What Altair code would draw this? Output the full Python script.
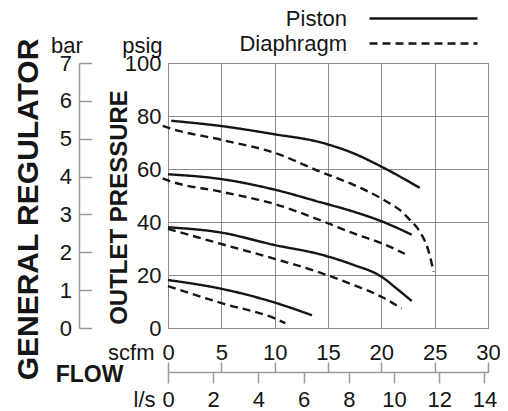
import altair as alt
import pandas as pd

# ---------------- data ----------------
piston_80_scfm = [0.3, 5, 10, 14.25, 17.4, 20, 23.6]
piston_80_psig = [78.2, 76.2, 73.1, 70.1, 65.9, 60.9, 52.9]
diaph_80_scfm = [-0.5, 0, 5, 10, 14.25, 17.4, 20, 20.8, 21.75, 22.7, 23.6, 24.4, 24.9]
diaph_80_psig = [76.3, 75.6, 71.0, 66.1, 59.0, 54.0, 48.9, 47.0, 44.5, 40.7, 36.4, 29.4, 21.2]

piston_60_scfm = [0, 5, 10, 14.25, 17.4, 20, 22.85]
piston_60_psig = [58.0, 56.2, 52.2, 47.5, 43.9, 40.3, 35.2]
diaph_60_scfm = [-0.5, 0, 5, 10, 14.5, 17.4, 20, 22.2]
diaph_60_psig = [56.5, 55.7, 51.4, 46.8, 40.3, 35.7, 32.0, 28.0]

piston_40_scfm = [0, 5, 10, 14.25, 17.4, 20, 21.4, 22.85]
piston_40_psig = [38.0, 36.0, 31.3, 27.8, 23.8, 19.4, 15.0, 10.2]
diaph_40_scfm = [0, 5, 10, 14.25, 17.4, 20, 21.9]
diaph_40_psig = [37.4, 31.7, 26.1, 20.9, 16.2, 11.8, 7.4]

piston_20_scfm = [0, 5, 10, 13.5]
piston_20_psig = [18.1, 14.8, 9.6, 4.8]
diaph_20_scfm = [0, 5, 10, 11]
diaph_20_psig = [15.8, 9.4, 3.6, 1.8]

types = ["Piston", "Diaphragm"]
scfm_ticks = [0, 5, 10, 15, 20, 25, 30]
psig_ticks = [0, 20, 40, 60, 80, 100]
bar_ticks = [0, 1, 2, 3, 4, 5, 6, 7]
ls_ticks = [0, 2, 4, 6, 8, 10, 12, 14]
SCFM_MAX = 30
PSIG_MAX = 100
BAR_MAX = 7
LS_PER_SCFM = 0.471947

series = [
    ("Piston", "80", piston_80_scfm, piston_80_psig),
    ("Diaphragm", "80", diaph_80_scfm, diaph_80_psig),
    ("Piston", "60", piston_60_scfm, piston_60_psig),
    ("Diaphragm", "60", diaph_60_scfm, diaph_60_psig),
    ("Piston", "40", piston_40_scfm, piston_40_psig),
    ("Diaphragm", "40", diaph_40_scfm, diaph_40_psig),
    ("Piston", "20", piston_20_scfm, piston_20_psig),
    ("Diaphragm", "20", diaph_20_scfm, diaph_20_psig),
]
rows = []
for kind, setp, xs, ys in series:
    for i, (x, y) in enumerate(zip(xs, ys)):
        rows.append({"type": kind, "kind": kind, "curve": kind + " " + setp,
                     "scfm": x, "psig": y, "order": i})
df = pd.DataFrame(rows)
bar_df = pd.DataFrame({"bar": bar_ticks})
ls_df = pd.DataFrame({"ls": ls_ticks})

# ---------------- style ----------------
FONT = "Liberation Sans"
INK = "#151515"
GRID = "#8c8c8c"
AX = "#9a9a9a"
FS = 22

common = dict(labelFont=FONT, labelFontSize=FS, labelColor=INK, titleFont=FONT,
              titleColor=INK, labelFlush=False)

lines = alt.Chart(df).mark_line(strokeWidth=2.4, interpolate="monotone").encode(
    x=alt.X("scfm:Q", scale=alt.Scale(domain=[0, SCFM_MAX], nice=False, zero=False),
            axis=alt.Axis(orient="top", offset=-309, values=scfm_ticks, grid=True,
                          gridColor=GRID, gridWidth=1, gridOpacity=1, domain=False,
                          ticks=True, tickSize=10, tickColor=AX, tickWidth=1.5,
                          labelBaseline="alphabetic", labelPadding=3, labelAlign="center",
                          title="scfm", titleFontSize=FS, titleFontWeight="normal",
                          titleAngle=0, titleAlign="right", titleBaseline="alphabetic",
                          titleX=-14, titleY=-13, **common)),
    y=alt.Y("psig:Q", scale=alt.Scale(domain=[0, PSIG_MAX], nice=False),
            axis=alt.Axis(orient="left", values=psig_ticks, grid=True, gridColor=GRID,
                          gridWidth=1, gridOpacity=1, domain=False, ticks=False, tickSize=0,
                          labelPadding=7, labelBaseline="middle",
                          title="psig", titleFontSize=FS, titleFontWeight="normal",
                          titleAngle=0, titleAlign="right", titleBaseline="alphabetic",
                          titleX=-6, titleY=-11, **common)),
    # legend 1: the line samples only
    strokeDash=alt.StrokeDash("type:N",
                              scale=alt.Scale(domain=types, range=[[1, 0], [8, 5]]),
                              legend=alt.Legend(title=None, orient="none", legendX=200, legendY=-57,
                                                direction="vertical", symbolType="stroke",
                                                symbolSize=108 * 108, symbolStrokeWidth=2.4,
                                                symbolStrokeColor=INK,
                                                clipHeight=25, rowPadding=0,
                                                labelExpr="''", labelFontSize=FS,
                                                padding=0)),
    # legend 2: the names only, to the left of the samples
    color=alt.Color("kind:N",
                    scale=alt.Scale(domain=types[::-1], range=[INK, INK]),
                    legend=alt.Legend(title=None, orient="none", legendX=157, legendY=-57,
                                      values=types,
                                      direction="vertical", symbolType="stroke",
                                      symbolSize=1, symbolOpacity=0,
                                      clipHeight=25, rowPadding=0,
                                      labelAlign="right", labelOffset=0,
                                      labelBaseline="middle", labelFont=FONT,
                                      labelFontSize=FS, labelColor=INK, labelLimit=300,
                                      padding=0)),
    detail="curve:N",
    order="order:Q",
)

bar_layer = alt.Chart(bar_df).mark_point(opacity=0).encode(
    y=alt.Y("bar:Q", scale=alt.Scale(domain=[0, BAR_MAX], nice=False),
            axis=alt.Axis(orient="right", offset=-409, values=bar_ticks, grid=False,
                          domain=True, domainColor=AX, domainWidth=1.5,
                          ticks=True, tickSize=12.5, tickColor=AX, tickWidth=1.5,
                          labelAlign="right", labelPadding=-20, labelBaseline="middle",
                          title="bar", titleFontSize=FS, titleFontWeight="normal",
                          titleAngle=0, titleAlign="center", titleBaseline="alphabetic",
                          titleX=-12.5, titleY=-11, **common)),
)

ls_layer = alt.Chart(ls_df).mark_point(opacity=0).encode(
    x=alt.X("ls:Q", scale=alt.Scale(domain=[0, SCFM_MAX * LS_PER_SCFM], nice=False, zero=False),
            axis=alt.Axis(orient="bottom", offset=44, values=ls_ticks, grid=False,
                          domain=True, domainColor=AX, domainWidth=1.5,
                          ticks=True, tickSize=11, tickColor=AX, tickWidth=1.5,
                          labelBaseline="alphabetic", labelPadding=23, labelAlign="center",
                          title="l/s", titleFontSize=FS, titleFontWeight="normal",
                          titleAngle=0, titleAlign="right", titleBaseline="alphabetic",
                          titleX=-13, titleY=34, **common)),
    y=alt.Y("ls:Q", axis=alt.Axis(orient="left", labels=False, ticks=False, domain=False,
                                  grid=False, title="GENERAL REGULATOR", titleFont=FONT,
                                  titleFontSize=30, titleFontWeight="bold", titleColor=INK,
                                  titleAngle=-90, titleAlign="center", titleBaseline="middle",
                                  titleX=-140, titleY=146)),
)

label_layer = alt.Chart(df).mark_point(opacity=0).encode(
    x=alt.X("scfm:Q", axis=alt.Axis(orient="bottom", labels=False, ticks=False, domain=False,
                                    grid=False, title="FLOW", titleFont=FONT, titleFontSize=23,
                                    titleFontWeight="bold", titleColor=INK, titleAngle=0,
                                    titleAlign="center", titleBaseline="alphabetic",
                                    titleX=-79, titleY=53)),
    y=alt.Y("psig:Q", axis=alt.Axis(orient="left", labels=False, ticks=False, domain=False,
                                    grid=False, title="OUTLET PRESSURE", titleFont=FONT,
                                    titleFontSize=24, titleFontWeight="bold", titleColor=INK,
                                    titleAngle=-90, titleAlign="center", titleBaseline="middle",
                                    titleX=-49, titleY=144)),
)

chart = alt.layer(lines, bar_layer, ls_layer, label_layer).resolve_scale(
    x="independent", y="independent"
).properties(
    width=320, height=265,
    autosize=alt.AutoSizeParams(type="none"),
    padding={"left": 160, "top": 55, "right": 12, "bottom": 83},
    background="white",
).configure_view(stroke=GRID, strokeWidth=1)

chart.save("out.html", embed_options={"renderer": "svg", "actions": False})
